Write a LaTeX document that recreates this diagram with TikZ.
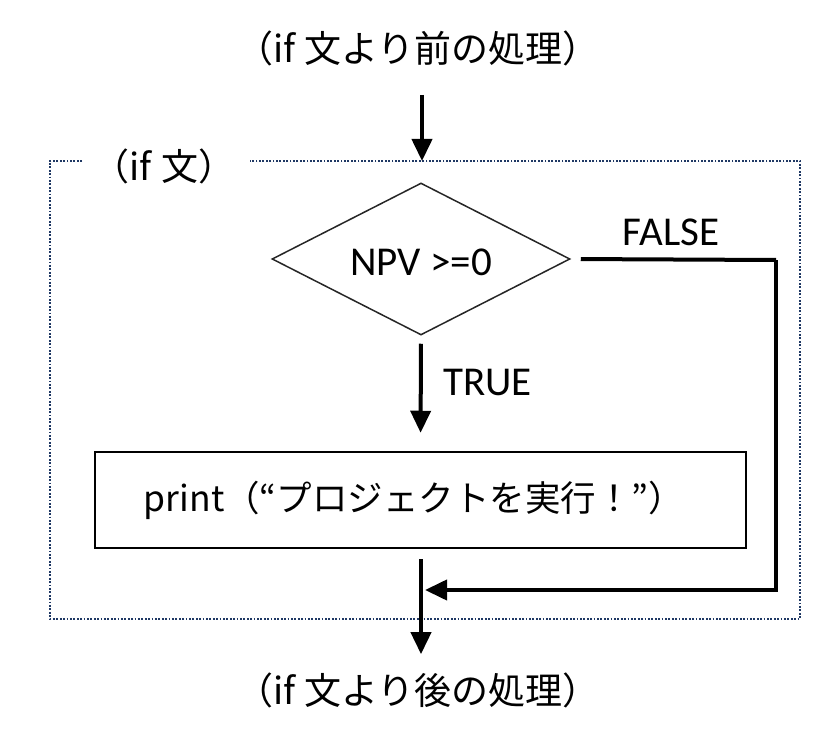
\documentclass[tikz,border=0pt]{standalone}
\usepackage{fontspec}
\setmainfont{Noto Sans CJK JP}
\newfontfamily\latfont{Carlito}
\usetikzlibrary{shapes.geometric,arrows.meta}
\definecolor{framenavy}{HTML}{1F3864}
\tikzset{
  jtext/.style={font=\fontsize{37}{40}\selectfont, inner sep=0pt},
  ptextstyle/.style={font=\fontsize{35.5}{40}\selectfont, inner sep=0pt},
  ltext/.style={font=\latfont\fontsize{41}{44}\selectfont, inner sep=0pt},
  flowarrow/.style={line width=4pt, -{Triangle[length=22pt,width=20pt]}},
  flowline/.style={line width=4pt},
  frameline/.style={draw=framenavy, line width=1.8pt, dash pattern=on 1.8pt off 1.6pt},
  decision/.style={diamond, draw=black!85, line width=1.5pt, minimum width=298pt, minimum height=152pt, inner sep=0pt, aspect=1.96},
  procbox/.style={rectangle, draw=black, line width=2.5pt, minimum width=651pt, minimum height=96pt, inner sep=0pt}
}
\begin{document}
\begin{tikzpicture}[x=1pt,y=-1pt]
\useasboundingbox (0,0) rectangle (814,738);
% frame
\draw[frameline] (82,161) -- (50,161) -- (50,619) -- (800,619) -- (800,161) -- (250,161);
\node[jtext] (iflabel) at (164,166) {（if\hspace{0.25em}文）};
% nodes
\node[jtext] (pre) at (418,48) {（if\hspace{0.25em}文より前の処理）};
\node[jtext] (post) at (418,690) {（if\hspace{0.25em}文より後の処理）};
\node[decision] (dec) at (421,259) {};
\node[ltext] (cond) at (421,262) {NPV >=0};
\node[procbox] (proc) at (420.5,500) {};
\node[ptextstyle] (ptext) at (414,500) {print（“プロジェクトを実行！”）};
\node[ltext, anchor=west] (truel) at (443,382) {TRUE};
\node[ltext] (falsel) at (671,232) {FALSE};
\coordinate (fr) at (776,260);
\coordinate (fm) at (425,590);
\coordinate (ftop) at (422,161);
\coordinate (pstart) at (422,95);
% connectors
\draw[flowarrow] (pstart) -- (ftop);
\draw[flowarrow, shorten <=8pt, shorten >=18pt] (dec.south) -- (proc.north);
\draw[flowarrow, shorten <=10pt, shorten >=18pt] (proc.south -| dec.south) -- (post.north -| dec.south);
\draw[flowline, shorten <=10pt] (dec.east) -- (fr);
\draw[flowarrow] (fr) |- (fm);
\end{tikzpicture}
\end{document}
